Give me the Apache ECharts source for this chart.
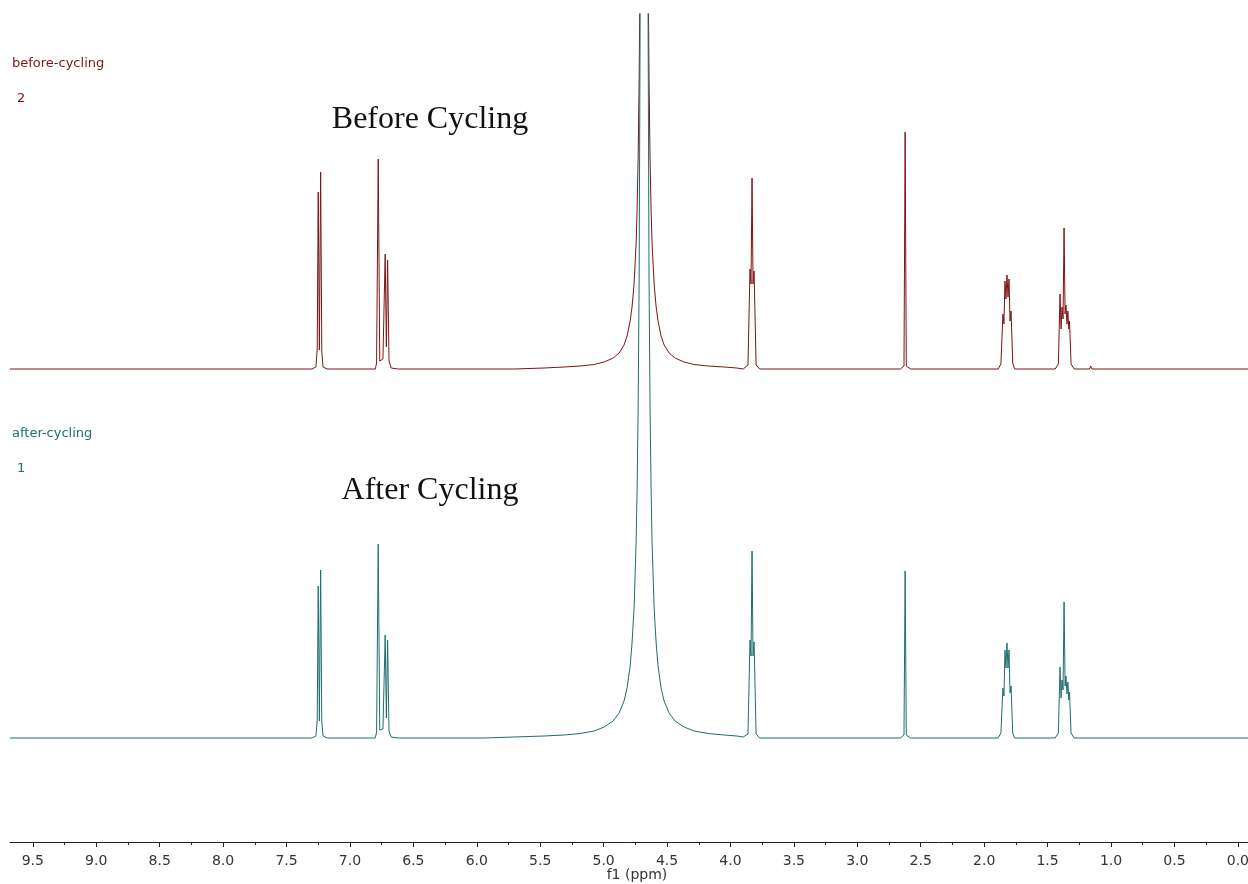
<!DOCTYPE html>
<html>
<head>
<meta charset="utf-8">
<title>NMR before / after cycling</title>
<script src="https://cdn.jsdelivr.net/npm/echarts@6.0.0/dist/echarts.min.js"></script>
<style>
  html, body { margin: 0; padding: 0; background: #fff; }
  #chart { width: 1248px; height: 884px; }
</style>
</head>
<body>
<div id="chart"></div>
<script>
// x axis ticks (ppm)
const tickLabels = [9.5, 9.0, 8.5, 8.0, 7.5, 7.0, 6.5, 6.0, 5.5, 5.0, 4.5, 4.0, 3.5, 3.0, 2.5, 2.0, 1.5, 1.0, 0.5, 0.0];
const minorTicks = [9.25, 8.75, 8.25, 7.75, 7.25, 6.75, 6.25, 5.75, 5.25, 4.75, 4.25, 3.75, 3.25, 2.75, 2.25, 1.75, 1.25, 0.75, 0.25];

// spectrum 2 : before cycling  [ppm, intensity]
const beforeCycling = [
  [9.68, 0], [7.30, 0],
  [7.268, 2], [7.258, 20], [7.250, 177], [7.241, 19], [7.231, 197], [7.222, 18], [7.212, 2], [7.18, 0],
  [6.80, 0], [6.790, 6], [6.777, 210], [6.765, 8], [6.740, 10], [6.722, 115], [6.713, 22], [6.703, 109], [6.692, 8], [6.675, 1], [6.62, 0],
  [5.80, 0],
  // water
  [5.706, 0], [5.470, 1], [5.312, 2], [5.186, 3], [5.075, 4.5], [4.996, 7], [4.925, 11], [4.878, 16], [4.839, 24], [4.815, 33],
  [4.791, 48], [4.776, 62], [4.760, 85], [4.744, 125], [4.736, 160], [4.728, 210], [4.720, 290], [4.713, 400], [4.705, 700], [4.697, 1000],
  [4.681, 1500],
  [4.665, 1000], [4.657, 700], [4.649, 400], [4.642, 290], [4.634, 210], [4.626, 160], [4.618, 125], [4.602, 85], [4.586, 62], [4.571, 48],
  [4.547, 33], [4.523, 24], [4.484, 16], [4.437, 11], [4.366, 7], [4.287, 4.5], [4.176, 3], [4.050, 2], [3.95, 1],
  [3.90, 0], [3.862, 4], [3.846, 100], [3.838, 85], [3.830, 191], [3.822, 85], [3.814, 98], [3.798, 4], [3.77, 0],
  [2.66, 0], [2.632, 3], [2.623, 237], [2.614, 3], [2.58, 0],
  [1.89, 0], [1.868, 5], [1.852, 55], [1.844, 45], [1.836, 88], [1.828, 70], [1.820, 94], [1.812, 72], [1.804, 90], [1.796, 48], [1.788, 58], [1.775, 6], [1.76, 0],
  [1.44, 0], [1.415, 5], [1.402, 75], [1.394, 40], [1.386, 62], [1.378, 50], [1.370, 141], [1.362, 55], [1.355, 64], [1.347, 45], [1.340, 58], [1.333, 40], [1.327, 48], [1.315, 5], [1.29, 0],
  [1.17, 0], [1.16, 3], [1.15, 0],
  [-0.08, 0]
];

// spectrum 1 : after cycling  [ppm, intensity]
const afterCycling = [
  [9.68, 0], [7.30, 0],
  [7.268, 2], [7.258, 18], [7.250, 152], [7.241, 17], [7.231, 168], [7.222, 16], [7.212, 2], [7.18, 0],
  [6.80, 0], [6.790, 6], [6.777, 194], [6.765, 8], [6.740, 9], [6.722, 103], [6.713, 20], [6.703, 98], [6.692, 7], [6.675, 1], [6.62, 0],
  // water
  [5.943, 0], [5.706, 1], [5.470, 2], [5.312, 3], [5.186, 4.5], [5.075, 7], [4.996, 11], [4.925, 17], [4.878, 25], [4.839, 37], [4.815, 50],
  [4.791, 72], [4.776, 95], [4.760, 130], [4.744, 195], [4.736, 250], [4.728, 330], [4.720, 460], [4.713, 700], [4.705, 1100], [4.697, 1600],
  [4.681, 2400],
  [4.665, 1600], [4.657, 1100], [4.649, 700], [4.642, 460], [4.634, 330], [4.626, 250], [4.618, 195], [4.602, 130], [4.586, 95], [4.571, 72],
  [4.547, 50], [4.523, 37], [4.484, 25], [4.437, 17], [4.366, 11], [4.287, 7], [4.176, 4.5], [4.050, 3], [3.95, 2], [3.90, 1],
  [3.862, 4], [3.846, 98], [3.838, 82], [3.830, 187], [3.822, 82], [3.814, 96], [3.798, 4], [3.77, 0],
  [2.66, 0], [2.632, 3], [2.623, 167], [2.614, 3], [2.58, 0],
  [1.89, 0], [1.868, 5], [1.852, 50], [1.844, 42], [1.836, 88], [1.828, 70], [1.820, 95], [1.812, 70], [1.804, 88], [1.796, 45], [1.788, 52], [1.775, 5], [1.76, 0],
  [1.44, 0], [1.415, 5], [1.402, 71], [1.394, 40], [1.386, 58], [1.378, 48], [1.370, 136], [1.362, 52], [1.355, 62], [1.347, 44], [1.340, 56], [1.333, 38], [1.327, 46], [1.315, 5], [1.29, 0],
  [-0.08, 0]
];

const redColor = '#7d1414';
const tealColor = '#1f6e6e';
const axisFont = '"DejaVu Sans", Verdana, sans-serif';
const xMin = -0.08, xMax = 9.68;

const chart = echarts.init(document.getElementById('chart'));

const option = {
  animation: false,
  backgroundColor: '#fff',
  grid: [
    { left: 10, right: 0, top: 14, bottom: 513, outerBoundsMode: 'none' },  // before cycling (upper trace)
    { left: 10, right: 0, top: 14, bottom: 42, outerBoundsMode: 'none' }    // after cycling + ppm axis
  ],
  xAxis: [
    { gridIndex: 0, type: 'value', inverse: true, min: xMin, max: xMax, show: false },
    {
      gridIndex: 1, type: 'value', position: 'bottom', offset: 0, inverse: true, min: xMin, max: xMax,
      axisLine: { onZero: false, lineStyle: { color: '#222', width: 1 } },
      axisTick: { customValues: tickLabels, length: 5, lineStyle: { color: '#222' } },
      axisLabel: {
        customValues: tickLabels, margin: 12, fontSize: 14, color: '#333', fontFamily: axisFont,
        formatter: v => v.toFixed(1)
      },
      splitLine: { show: false }
    },
    {
      // minor ticks
      gridIndex: 1, type: 'value', position: 'bottom', offset: 0, inverse: true, min: xMin, max: xMax,
      axisLine: { show: false, onZero: false },
      axisTick: { customValues: minorTicks, length: 3, lineStyle: { color: '#222' } },
      axisLabel: { show: false },
      splitLine: { show: false }
    }
  ],
  yAxis: [
    { gridIndex: 0, type: 'value', min: -2, max: 355, show: false },
    { gridIndex: 1, type: 'value', min: -104, max: 724, show: false }
  ],
  series: [
    {
      name: 'before-cycling', type: 'line', xAxisIndex: 0, yAxisIndex: 0,
      data: beforeCycling, showSymbol: false, clip: true,
      lineStyle: { color: redColor, width: 1 }
    },
    {
      name: 'after-cycling', type: 'line', xAxisIndex: 1, yAxisIndex: 1,
      data: afterCycling, showSymbol: false, clip: true,
      lineStyle: { color: tealColor, width: 1 }
    }
  ],
  graphic: [
    { type: 'text', x: 12, y: 64, style: { text: 'before-cycling', fill: redColor, font: '13px ' + axisFont, verticalAlign: 'middle' } },
    { type: 'text', x: 17, y: 99, style: { text: '2', fill: redColor, font: '13px ' + axisFont, verticalAlign: 'middle' } },
    { type: 'text', x: 12, y: 434, style: { text: 'after-cycling', fill: tealColor, font: '13px ' + axisFont, verticalAlign: 'middle' } },
    { type: 'text', x: 17, y: 469, style: { text: '1', fill: tealColor, font: '13px ' + axisFont, verticalAlign: 'middle' } },
    { type: 'text', x: 430, y: 120, style: { text: 'Before Cycling', fill: '#111', font: '32px "Liberation Serif", "Times New Roman", serif', align: 'center', verticalAlign: 'middle' } },
    { type: 'text', x: 430, y: 491, style: { text: 'After Cycling', fill: '#111', font: '32px "Liberation Serif", "Times New Roman", serif', align: 'center', verticalAlign: 'middle' } },
    // axis title
    { type: 'text', x: 637, y: 875, style: { text: 'f1 (ppm)', fill: '#333', font: '14px ' + axisFont, align: 'center', verticalAlign: 'middle' } }
  ]
};

chart.setOption(option);
</script>
</body>
</html>
